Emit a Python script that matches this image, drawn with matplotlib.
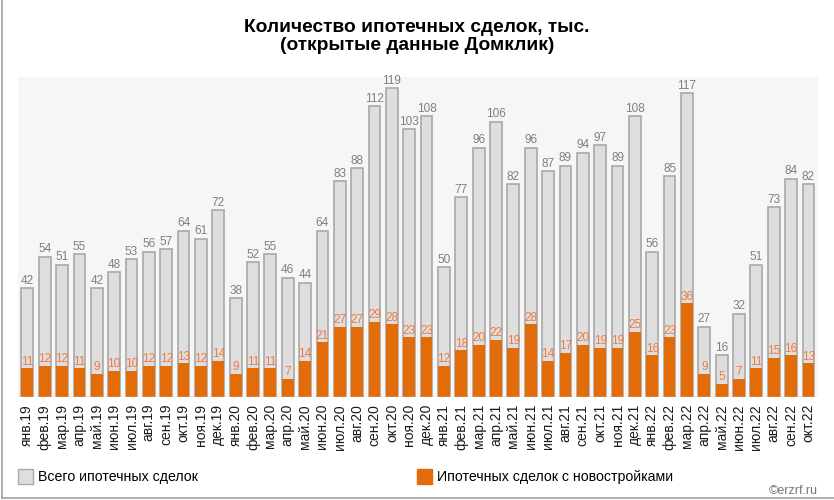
import matplotlib
matplotlib.use("Agg")
import matplotlib.pyplot as plt
from matplotlib.patches import Rectangle
from matplotlib.lines import Line2D

plt.rcParams["font.family"] = ["Liberation Sans", "DejaVu Sans"]

# Месяцы
months = ["янв.19", "фев.19", "мар.19", "апр.19", "май.19", "июн.19", "июл.19", "авг.19",
          "сен.19", "окт.19", "ноя.19", "дек.19",
          "янв.20", "фев.20", "мар.20", "апр.20", "май.20", "июн.20", "июл.20", "авг.20",
          "сен.20", "окт.20", "ноя.20", "дек.20",
          "янв.21", "фев.21", "мар.21", "апр.21", "май.21", "июн.21", "июл.21", "авг.21",
          "сен.21", "окт.21", "ноя.21", "дек.21",
          "янв.22", "фев.22", "мар.22", "апр.22", "май.22", "июн.22", "июл.22", "авг.22",
          "сен.22", "окт.22"]

# Всего ипотечных сделок, тыс.
total = [42, 54, 51, 55, 42, 48, 53, 56, 57, 64, 61, 72,
         38, 52, 55, 46, 44, 64, 83, 88, 112, 119, 103, 108,
         50, 77, 96, 106, 82, 96, 87, 89, 94, 97, 89, 108,
         56, 85, 117, 27, 16, 32, 51, 73, 84, 82]

# Ипотечных сделок с новостройками, тыс.
new = [11, 12, 12, 11, 9, 10, 10, 12, 12, 13, 12, 14,
       9, 11, 11, 7, 14, 21, 27, 27, 29, 28, 23, 23,
       12, 18, 20, 22, 19, 28, 14, 17, 20, 19, 19, 25,
       16, 23, 36, 9, 5, 7, 11, 15, 16, 13]

gray = "#dedede"
gray_edge = "#a9a9a9"
orange = "#e36c0a"

fig = plt.figure(figsize=(8.34, 5.0), dpi=100)
ax = fig.add_axes([18 / 834, 103 / 500, 800 / 834, 320 / 500])
ax.set_facecolor("#f6f6f6")

x = range(len(months))
ax.bar(x, total, width=0.68, color=gray, edgecolor=gray_edge, linewidth=1.2, zorder=2)
ax.bar(x, new, width=0.68, color=orange, edgecolor="none", zorder=3)

for i in x:
    ax.annotate(str(total[i]), (i, total[i]), xytext=(0, 1), textcoords="offset points",
                ha="center", va="bottom", fontsize=8.5, color="#7f7f7f", zorder=4)
    ax.annotate(str(new[i]), (i, new[i]), xytext=(0, 0.5), textcoords="offset points",
                ha="center", va="bottom", fontsize=8.5, color="#f07a42", zorder=4)

ax.set_xlim(-0.54, 45.55)
ax.set_ylim(0, 123.2)
ax.set_xticks(list(x))
ax.set_xticklabels(months, rotation=90, fontsize=10, color="#1a1a1a")
ax.tick_params(axis="x", length=0, pad=5)
ax.set_yticks([])
for s in ax.spines.values():
    s.set_visible(False)
ax.axhline(0, color="#d0d0d0", linewidth=1, zorder=5)

fig.text(0.5, 0.927, "Количество ипотечных сделок, тыс.\n(открытые данные Домклик)",
         ha="center", va="center", fontsize=13.8, fontweight="bold", linespacing=1.05)

# легенда
fig.add_artist(Rectangle((18 / 834, 16 / 500), 15 / 834, 15 / 500, transform=fig.transFigure,
                         facecolor=gray, edgecolor=gray_edge, linewidth=1))
fig.text(38 / 834, 23.5 / 500, "Всего ипотечных сделок", ha="left", va="center", fontsize=10.2)
fig.add_artist(Rectangle((417 / 834, 16 / 500), 15 / 834, 15 / 500, transform=fig.transFigure,
                         facecolor=orange, edgecolor=orange, linewidth=1))
fig.text(437 / 834, 23.5 / 500, "Ипотечных сделок с новостройками", ha="left", va="center", fontsize=10.2)

fig.text(818 / 834, 9 / 500, "©erzrf.ru", ha="right", va="center", fontsize=9, color="#777777")

# рамка слева и снизу
fig.add_artist(Line2D([1.5 / 834, 1.5 / 834], [2 / 500, 1], transform=fig.transFigure,
                      color="#a0a0a0", linewidth=1.2))
fig.add_artist(Line2D([1.5 / 834, 1], [2 / 500, 2 / 500], transform=fig.transFigure,
                      color="#a0a0a0", linewidth=1.2))

fig.savefig("out.png", dpi=100, facecolor="white")
